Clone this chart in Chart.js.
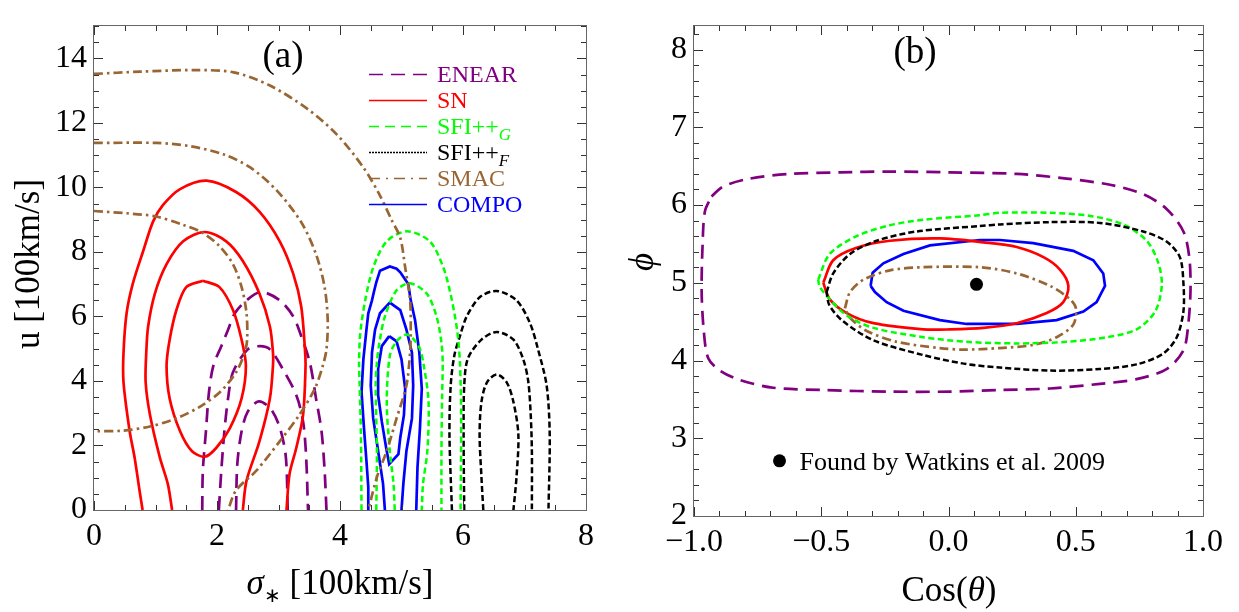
<!DOCTYPE html>
<html>
<head>
<meta charset="utf-8">
<script src="https://cdn.jsdelivr.net/npm/chart.js@4.4.0/dist/chart.umd.min.js"></script>
<style>
  html, body { margin: 0; padding: 0; background: #fff; }
  #wrap { position: relative; width: 1239px; height: 612px; }
  #chartA { position: absolute; left: 0; top: 0; }
  #chartB { position: absolute; left: 620px; top: 0; }
</style>
</head>
<body>
<div id="wrap">
  <canvas id="chartA" width="620" height="612"></canvas>
  <canvas id="chartB" width="619" height="612"></canvas>
</div>
<script>
// ---- panel (a): sigma_* vs u contours, [x, y] pairs ----
const snOuter = [[0.79,0],[0.74,0.61],[0.66,1.63],[0.58,2.44],[0.48,3.96],[0.48,4.88],[0.53,6.10],[0.63,7.01],[0.80,8.03],[0.96,8.94],[1.12,9.45],[1.40,9.95],[1.83,10.21],[2.31,9.86],[2.69,9.25],[3.02,8.33],[3.24,7.32],[3.37,6.30],[3.43,4.98],[3.44,4.47],[3.40,2.95],[3.29,1.93],[3.18,1.12],[3.13,0]]
const snMid = [[1.27,0],[1.20,0.81],[1.07,1.63],[0.91,2.95],[0.84,3.96],[0.85,4.88],[0.88,5.69],[0.99,6.71],[1.18,7.62],[1.45,8.33],[1.80,8.62],[2.15,8.33],[2.42,7.72],[2.69,6.71],[2.86,5.69],[2.91,4.88],[2.91,4.47],[2.86,3.46],[2.69,2.13],[2.48,0.91],[2.42,0]]
const snInner = [[1.77,7.11],[2.04,6.91],[2.26,6.20],[2.40,5.28],[2.47,4.47],[2.40,3.46],[2.21,2.54],[1.99,1.93],[1.80,1.65],[1.59,1.83],[1.40,2.44],[1.23,3.46],[1.18,4.47],[1.23,5.28],[1.34,6.20],[1.50,6.91],[1.77,7.11]]

const smacOuter = [[0,13.52],[0.75,13.59],[1.67,13.64],[2.27,13.57],[2.86,13.16],[3.46,12.45],[3.95,11.64],[4.38,10.62],[4.65,9.75],[4.84,8.99],[4.98,8.44],[5.06,7.52],[5.14,6.50],[5.15,5.49],[5.14,4.88],[5.08,3.86],[4.92,2.84],[4.76,1.83],[4.60,1.02],[4.46,0]]
const smacMid = [[0,11.38],[1.02,11.38],[1.56,11.28],[2.10,11.03],[2.54,10.62],[2.97,9.91],[3.37,8.92],[3.61,7.93],[3.75,6.91],[3.80,5.89],[3.78,4.98],[3.72,4.47],[3.59,3.76],[3.34,2.95],[3.02,2.13],[2.64,1.22],[2.31,0.61],[2.18,0]]
const smacInner = [[0,9.27],[0.53,9.20],[1.01,9.10],[1.45,8.84],[1.77,8.59],[2.04,8.18],[2.26,7.62],[2.40,6.91],[2.48,6.10],[2.49,5.28],[2.45,4.88],[2.31,4.27],[2.05,3.66],[1.72,3.20],[1.34,2.84],[0.91,2.59],[0.47,2.46],[0,2.44]]

const enearOuter = [[1.76,0],[1.77,1.22],[1.82,2.44],[1.87,3.66],[1.94,4.47],[2.07,5.08],[2.18,5.59],[2.29,6.10],[2.48,6.50],[2.72,6.76],[3.02,6.50],[3.24,6.00],[3.37,5.39],[3.51,4.57],[3.61,3.46],[3.70,2.44],[3.75,1.22],[3.78,0]]
const enearMid = [[2.03,0],[2.07,1.22],[2.12,2.44],[2.18,3.46],[2.26,4.27],[2.50,4.98],[2.70,5.08],[2.86,4.98],[3.07,4.37],[3.29,3.56],[3.40,2.74],[3.45,1.63],[3.48,0]]
const enearInner = [[2.31,0],[2.33,1.42],[2.40,2.44],[2.50,3.05],[2.68,3.37],[2.88,3.12],[3.03,2.50],[3.12,1.63],[3.15,0]]

const sfigOuter = [[4.35,0],[4.34,2.34],[4.32,3.86],[4.31,4.57],[4.33,5.49],[4.41,6.50],[4.54,7.52],[4.76,8.33],[5.09,8.64],[5.46,8.33],[5.68,7.52],[5.82,6.50],[5.91,5.49],[5.95,4.57],[5.97,2.84],[5.96,0]]
const sfigMid = [[4.59,0],[4.60,1.83],[4.58,3.86],[4.60,4.57],[4.64,5.18],[4.73,6.00],[4.92,6.81],[5.14,7.03],[5.41,6.71],[5.57,6.00],[5.65,5.18],[5.67,4.57],[5.66,3.50],[5.65,1.83],[5.65,0]]
const sfigInner = [[4.89,0],[4.87,0.81],[4.81,1.83],[4.76,3.35],[4.81,4.78],[4.92,5.23],[5.09,5.44],[5.28,5.08],[5.36,4.50],[5.44,3.35],[5.42,1.83],[5.35,0.81],[5.33,0]]

const sfifOuter = [[5.82,0],[5.78,2.34],[5.80,3.86],[5.86,4.80],[5.95,5.39],[6.06,6.00],[6.28,6.61],[6.55,6.79],[6.87,6.50],[7.09,5.79],[7.22,4.98],[7.36,3.86],[7.41,2.34],[7.39,0]]
const sfifMid = [[6.02,0],[6.01,2.34],[6.02,3.86],[6.08,4.70],[6.30,5.28],[6.55,5.52],[6.82,5.28],[6.98,4.67],[7.06,4.00],[7.10,3.00],[7.12,1.83],[7.12,0]]
const sfifInner = [[6.33,0],[6.30,1.02],[6.27,2.34],[6.30,3.35],[6.39,3.96],[6.55,4.20],[6.71,3.96],[6.82,3.35],[6.90,2.34],[6.87,1.02],[6.82,0]]

const compoOuter = [[4.47,0],[4.46,0.71],[4.43,1.52],[4.39,2.54],[4.35,3.66],[4.38,4.67],[4.43,5.59],[4.46,6.10],[4.52,6.50],[4.55,6.75],[4.59,7.06],[4.65,7.42],[4.81,7.55],[4.92,7.48],[4.98,7.37],[5.11,7.01],[5.15,6.50],[5.22,5.89],[5.29,4.88],[5.33,3.76],[5.30,2.54],[5.26,1.32],[5.24,0]]
const compoMid = [[4.73,0],[4.70,0.81],[4.62,1.83],[4.54,2.84],[4.50,3.86],[4.52,4.88],[4.57,5.59],[4.65,6.10],[4.81,6.43],[4.98,6.20],[5.08,5.59],[5.17,4.88],[5.19,3.86],[5.17,2.84],[5.08,1.83],[5.03,0.81],[5.00,0]]
const compoInner = [[4.80,5.39],[4.92,5.23],[5.00,4.67],[5.06,3.76],[5.04,2.95],[4.98,2.24],[4.95,1.73],[4.80,1.42],[4.75,1.93],[4.68,2.74],[4.62,3.56],[4.62,4.37],[4.68,5.08],[4.80,5.39]]

// ---- panel (b): cos(theta) vs phi ----
const enearB = [[-0.931,6.11],[-0.885,6.24],[-0.780,6.34],[-0.623,6.40],[-0.426,6.42],[-0.230,6.43],[0.006,6.42],[0.268,6.40],[0.464,6.34],[0.635,6.26],[0.765,6.14],[0.857,5.95],[0.923,5.66],[0.946,5.33],[0.951,4.92],[0.942,4.46],[0.923,4.13],[0.857,3.89],[0.739,3.76],[0.595,3.70],[0.399,3.64],[0.202,3.62],[0.006,3.60],[-0.230,3.60],[-0.492,3.62],[-0.689,3.65],[-0.820,3.75],[-0.898,3.87],[-0.944,4.03],[-0.961,4.36],[-0.970,4.89],[-0.966,5.51],[-0.957,5.92],[-0.931,6.11]]
const snB = [[-0.492,5.00],[-0.453,5.29],[-0.361,5.45],[-0.230,5.54],[-0.034,5.57],[0.137,5.52],[0.268,5.46],[0.373,5.33],[0.438,5.17],[0.471,4.96],[0.451,4.75],[0.386,4.61],[0.268,4.48],[0.137,4.42],[0.006,4.40],[-0.099,4.40],[-0.295,4.48],[-0.400,4.61],[-0.467,4.79],[-0.492,5.00]]
const sfigB = [[-0.512,5.04],[-0.467,5.37],[-0.361,5.60],[-0.230,5.74],[-0.099,5.81],[0.124,5.87],[0.202,5.90],[0.399,5.90],[0.556,5.86],[0.687,5.75],[0.779,5.54],[0.825,5.25],[0.838,4.96],[0.812,4.63],[0.739,4.40],[0.622,4.30],[0.464,4.24],[0.268,4.22],[0.071,4.24],[-0.099,4.30],[-0.295,4.42],[-0.400,4.58],[-0.467,4.79],[-0.506,4.95],[-0.512,5.04]]
const sfifB = [[-0.479,4.88],[-0.453,5.12],[-0.387,5.37],[-0.282,5.54],[-0.125,5.66],[0.124,5.73],[0.202,5.75],[0.399,5.78],[0.595,5.77],[0.765,5.66],[0.857,5.53],[0.909,5.33],[0.923,5.00],[0.923,4.63],[0.897,4.30],[0.844,4.09],[0.739,3.95],[0.595,3.89],[0.399,3.87],[0.202,3.91],[0.060,3.96],[-0.099,4.07],[-0.295,4.26],[-0.416,4.51],[-0.468,4.71],[-0.479,4.88]]
const compoB = [[-0.306,4.96],[-0.298,5.13],[-0.256,5.25],[-0.177,5.37],[-0.073,5.48],[0.124,5.55],[0.202,5.55],[0.333,5.51],[0.490,5.41],[0.569,5.29],[0.608,5.12],[0.615,4.96],[0.582,4.75],[0.530,4.63],[0.425,4.52],[0.268,4.47],[0.071,4.47],[-0.034,4.52],[-0.177,4.64],[-0.243,4.75],[-0.289,4.88],[-0.306,4.96]]
const smacB = [[-0.407,4.67],[-0.387,4.88],[-0.334,5.04],[-0.230,5.16],[-0.099,5.20],[0.124,5.20],[0.268,5.12],[0.399,4.96],[0.477,4.79],[0.501,4.67],[0.490,4.46],[0.425,4.30],[0.333,4.20],[0.202,4.16],[0.060,4.14],[-0.034,4.16],[-0.203,4.24],[-0.321,4.38],[-0.387,4.55],[-0.407,4.67]]
const watkins = [[0.11, 4.98]]
const watkinsLabel = 'Found by Watkins et al. 2009'
const watkinsKey = [-0.664, 2.71]

// ---- axes ----
const xTicksA = [0, 2, 4, 6, 8]
const yTicksA = [0, 2, 4, 6, 8, 10, 12, 14]
const xTicksB = [-1.0, -0.5, 0.0, 0.5, 1.0]
const yTicksB = [2, 3, 4, 5, 6, 7, 8]

// legend of panel (a)
const seriesNames = ['ENEAR', 'SN', 'SFI++', 'SFI++', 'SMAC', 'COMPO']
const seriesSubs = ['', '', 'G', 'F', '', '']

const FONT = '"Liberation Serif", "Times New Roman", serif'
const PURPLE = '#800080', RED = '#ff0000', GREEN = '#00ff00', BLACK = '#000000', BROWN = '#996633', BLUE = '#0000ff'

const styles = {
    enear: {borderColor: PURPLE, borderWidth: 2.7, borderDash: [14, 8], tension: 0.3},
    sn:    {borderColor: RED, borderWidth: 2.7, borderDash: [], tension: 0.3},
    sfig:  {borderColor: GREEN, borderWidth: 2.5, borderDash: [6, 3.5], tension: 0.3},
    sfif:  {borderColor: BLACK, borderWidth: 2.5, borderDash: [6, 3], tension: 0.3},
    smac:  {borderColor: BROWN, borderWidth: 2.7, borderDash: [9, 4, 2.5, 4], tension: 0.3},
    compo: {borderColor: BLUE, borderWidth: 2.7, borderDash: [], tension: 0}
}
const legendStyles = [
    {color: PURPLE, dash: [14, 8]},
    {color: RED, dash: []},
    {color: GREEN, dash: [10, 6]},
    {color: BLACK, dash: [2, 1]},
    {color: BROWN, dash: [11, 6, 2, 6]},
    {color: BLUE, dash: []}
]

function contour(arr, style) {
    return Object.assign({
        data: arr.map(p => ({x: p[0], y: p[1]})),
        showLine: true, pointRadius: 0, pointHoverRadius: 0, fill: false
    }, style)
}

// draw text made of runs (font / vertical offset / colour) centred or left aligned
function drawRuns(ctx, runs, x, y, align) {
    let w = 0
    runs.forEach(r => { ctx.font = r.font; w += ctx.measureText(r.t).width })
    let cx = align === 'center' ? x - w / 2 : x
    ctx.textAlign = 'left'
    runs.forEach(r => {
        ctx.font = r.font
        if (r.color) ctx.fillStyle = r.color
        ctx.fillText(r.t, cx, y + (r.dy || 0))
        cx += ctx.measureText(r.t).width
    })
}

// Mathematica-like frame with ticks on all four sides (drawn as thin rectangles)
function drawFrame(chart, o) {
    const ctx = chart.ctx
    const a = chart.chartArea
    const x = chart.scales.x, y = chart.scales.y
    const L = Math.round(a.left), R = Math.round(a.right), T = Math.round(a.top), B = Math.round(a.bottom)
    ctx.save()
    ctx.fillStyle = '#333'
    let n = Math.round((x.max - x.min) / o.xMinor)
    for (let i = 0; i <= n; i++) {
        const v = x.min + i * o.xMinor
        const major = Math.abs(v / o.xMajor - Math.round(v / o.xMajor)) < 1e-6
        const len = major ? 9 : 5
        const px = Math.round(x.getPixelForValue(v))
        ctx.fillRect(px, B - len, 1, len)
        ctx.fillRect(px, T, 1, len)
    }
    n = Math.floor((y.max - y.min) / o.yMinor + 1e-6)
    for (let i = 0; i <= n; i++) {
        const v = y.min + i * o.yMinor
        const major = Math.abs(v / o.yMajor - Math.round(v / o.yMajor)) < 1e-6
        const len = major ? 9 : 5
        const py = Math.round(y.getPixelForValue(v))
        ctx.fillRect(L, py, len, 1)
        ctx.fillRect(R - len, py, len, 1)
    }
    ctx.fillStyle = '#666'
    ctx.fillRect(L - 1, T - 1, R - L + 2, 1)
    ctx.fillRect(L - 1, B, R - L + 2, 1)
    ctx.fillRect(L - 1, T - 1, 1, B - T + 2)
    ctx.fillRect(R, T - 1, 1, B - T + 2)
    ctx.restore()
}

function axisOpts(min, max, ticks, fmt, fit) {
    return {
        type: 'linear', min: min, max: max,
        afterBuildTicks: s => { s.ticks = ticks.map(v => ({value: v})) },
        afterFit: fit,
        grid: {display: false, drawTicks: false},
        border: {display: false},
        ticks: {
            padding: 7, autoSkip: false, maxRotation: 0, color: '#000',
            font: {family: FONT, size: 32}, callback: fmt
        }
    }
}

const fmtInt = v => String(Math.round(v))
const fmtOne = v => (v < 0 ? '\u2212' : '') + Math.abs(v).toFixed(1)

// ---------- chart (a) ----------
const decorA = {
    id: 'decorA',
    afterDraw(chart) {
        const ctx = chart.ctx
        drawFrame(chart, {xMinor: 0.5, xMajor: 2, yMinor: 0.5, yMajor: 2})
        ctx.save()
        ctx.fillStyle = '#000'
        ctx.textBaseline = 'alphabetic'
        ctx.textAlign = 'center'
        ctx.font = '37px ' + FONT
        ctx.fillText('(a)', 283, 67)
        // legend
        seriesNames.forEach((name, i) => {
            const st = legendStyles[i]
            const cy = 74 + i * 26
            ctx.strokeStyle = st.color
            ctx.lineWidth = 1.3
            ctx.setLineDash(st.dash)
            ctx.beginPath()
            ctx.moveTo(369, cy + 0.5); ctx.lineTo(427, cy + 0.5)
            ctx.stroke()
            const runs = [{t: name, font: '24px ' + FONT, color: st.color}]
            if (seriesSubs[i]) runs.push({t: seriesSubs[i], font: 'italic 17px ' + FONT, dy: 6})
            drawRuns(ctx, runs, 437, cy + 8, 'left')
        })
        ctx.setLineDash([])
        ctx.fillStyle = '#000'
        // x title
        drawRuns(ctx, [
            {t: '\u03c3', font: 'italic 35px ' + FONT},
            {t: '\u2217', font: '20px ' + FONT, dy: 8},
            {t: ' [100km/s]', font: '35px ' + FONT}
        ], 340, 594, 'center')
        // y title
        ctx.translate(30, 264)
        ctx.rotate(-Math.PI / 2)
        ctx.textAlign = 'center'
        ctx.textBaseline = 'middle'
        ctx.font = '35px ' + FONT
        ctx.fillText('u [100km/s]', 0, 0)
        ctx.restore()
    }
}

new Chart(document.getElementById('chartA'), {
    type: 'scatter',
    data: {
        datasets: [
            contour(smacOuter, styles.smac), contour(smacMid, styles.smac), contour(smacInner, styles.smac),
            contour(snOuter, styles.sn), contour(snMid, styles.sn), contour(snInner, styles.sn),
            contour(enearOuter, styles.enear), contour(enearMid, styles.enear), contour(enearInner, styles.enear),
            contour(sfigOuter, styles.sfig), contour(sfigMid, styles.sfig), contour(sfigInner, styles.sfig),
            contour(sfifOuter, styles.sfif), contour(sfifMid, styles.sfif), contour(sfifInner, styles.sfif),
            contour(compoOuter, styles.compo), contour(compoMid, styles.compo), contour(compoInner, styles.compo)
        ]
    },
    options: {
        responsive: false,
        animation: false,
        layout: {padding: {left: 0, right: 34, top: 18, bottom: 0}},
        plugins: {legend: {display: false}, tooltip: {enabled: false}},
        scales: {
            x: axisOpts(0, 8, xTicksA, fmtInt, s => { s.height = 102 }),
            y: axisOpts(0, 15, yTicksA, fmtInt, s => { s.width = 94 })
        }
    },
    plugins: [decorA]
})

// ---------- chart (b) ----------
const decorB = {
    id: 'decorB',
    afterDraw(chart) {
        const ctx = chart.ctx
        const x = chart.scales.x, y = chart.scales.y
        drawFrame(chart, {xMinor: 0.1, xMajor: 0.5, yMinor: 0.2, yMajor: 1})
        ctx.save()
        ctx.fillStyle = '#000'
        ctx.textAlign = 'center'
        ctx.textBaseline = 'alphabetic'
        ctx.font = '37px ' + FONT
        ctx.fillText('(b)', 295, 63)
        // key for the Watkins point
        const kx = x.getPixelForValue(watkinsKey[0]), ky = y.getPixelForValue(watkinsKey[1])
        ctx.beginPath()
        ctx.arc(kx, ky, 6.5, 0, Math.PI * 2)
        ctx.fill()
        ctx.textAlign = 'left'
        ctx.font = '26px ' + FONT
        ctx.fillText(watkinsLabel, kx + 20, ky + 9)
        // x title
        drawRuns(ctx, [
            {t: 'Cos(', font: '35px ' + FONT},
            {t: '\u03b8', font: 'italic 35px ' + FONT},
            {t: ')', font: '35px ' + FONT}
        ], 329, 601, 'center')
        // y title
        ctx.translate(24, 262)
        ctx.rotate(-Math.PI / 2)
        ctx.textAlign = 'center'
        ctx.textBaseline = 'middle'
        ctx.font = 'italic 35px ' + FONT
        ctx.fillText('\u03d5', 0, 0)
        ctx.restore()
    }
}

new Chart(document.getElementById('chartB'), {
    type: 'scatter',
    data: {
        datasets: [
            contour(enearB, styles.enear),
            contour(sfifB, styles.sfif),
            contour(sfigB, styles.sfig),
            contour(smacB, styles.smac),
            contour(snB, styles.sn),
            contour(compoB, styles.compo),
            {
                data: watkins.map(p => ({x: p[0], y: p[1]})),
                showLine: false, pointRadius: 6.5, pointHoverRadius: 6.5,
                backgroundColor: '#000', borderWidth: 0
            }
        ]
    },
    options: {
        responsive: false,
        animation: false,
        layout: {padding: {left: 0, right: 36, top: 8, bottom: 0}},
        plugins: {legend: {display: false}, tooltip: {enabled: false}},
        scales: {
            x: axisOpts(-1, 1, xTicksB, fmtOne, s => { s.height = 96 }),
            y: axisOpts(2, 8.3, yTicksB, fmtInt, s => { s.width = 74 })
        }
    },
    plugins: [decorB]
})
</script>
</body>
</html>
